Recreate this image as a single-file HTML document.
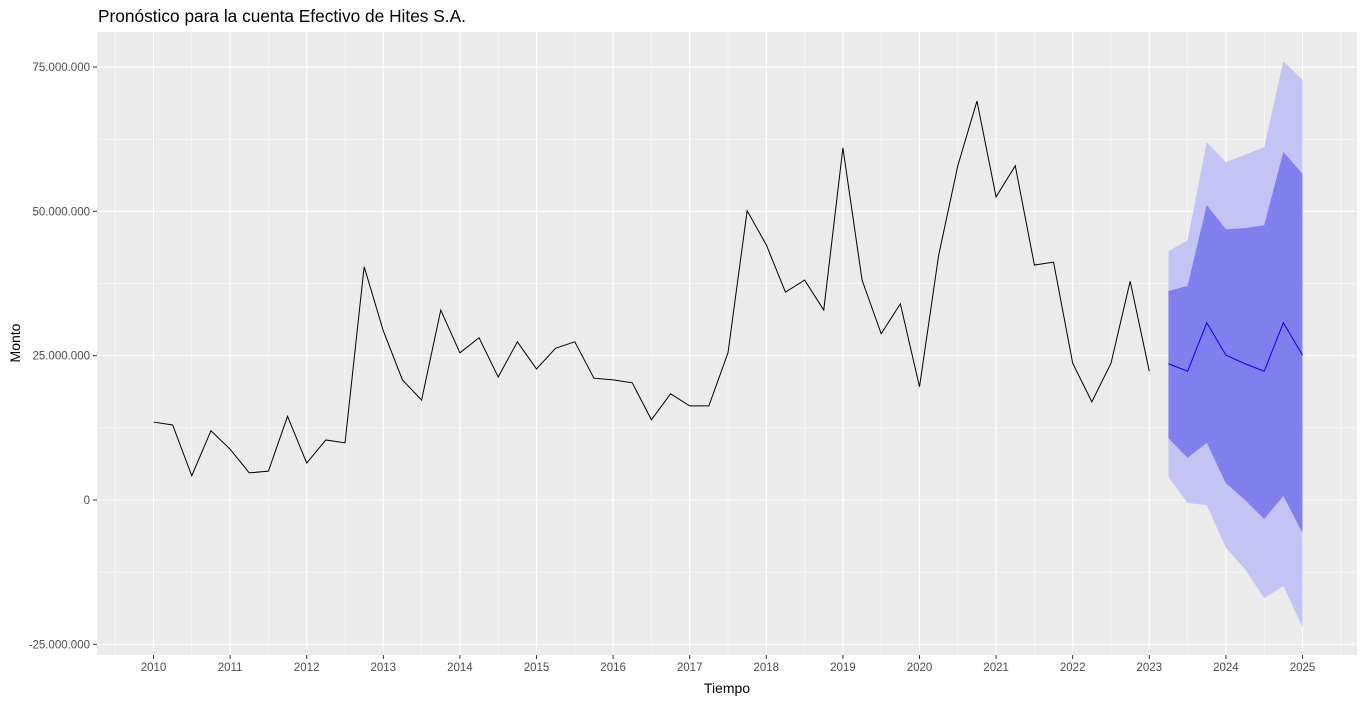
<!DOCTYPE html>
<html><head><meta charset="utf-8"><style>
body{margin:0;background:#fff;font-family:"Liberation Sans",Arial,sans-serif}
</style></head><body>
<svg id="chart" width="1366" height="703" xmlns="http://www.w3.org/2000/svg">
<text x="98" y="22" font-size="17.3" fill="#000">Pronóstico para la cuenta Efectivo de Hites S.A.</text>
<rect x="97" y="32" width="1260" height="623" fill="#ebebeb"/>
<g id="grid"></g><g id="bands"></g><g id="lines"></g><g id="axes"></g>
<text x="727" y="693" font-size="14" text-anchor="middle" fill="#000">Tiempo</text>
<text transform="translate(20,343) rotate(-90)" font-size="14" text-anchor="middle" fill="#000">Monto</text>
</svg>
<script>
const actual=[13.5,13.0,4.2,12.0,8.8,4.7,5.0,14.5,6.4,10.4,9.9,40.4,29.3,20.8,17.3,32.9,25.5,28.1,21.3,27.4,22.7,26.3,27.4,21.1,20.8,20.3,13.9,18.4,16.3,16.3,25.5,50.1,44.2,36.0,38.1,32.9,61.0,38.1,28.8,34.0,19.6,42.4,57.9,69.1,52.5,57.9,40.7,41.2,23.7,17.0,23.7,37.9,22.3];
const fcMean=[23.6,22.3,30.7,25.1,23.6,22.3,30.7,25.1];
const hi80=[36.2,37.1,51.1,46.9,47.1,47.6,60.3,56.5];
const lo80=[10.7,7.3,9.9,2.9,0,-3.3,0.7,-5.7];
const hi95=[43.1,45.0,62.0,58.5,59.8,61.1,76.0,72.8];
const lo95=[4.0,-0.5,-0.9,-8.3,-12.0,-17.0,-14.9,-22.0];
const xTicks=[2010,2011,2012,2013,2014,2015,2016,2017,2018,2019,2020,2021,2022,2023,2024,2025];
const yTicks=[-25,0,25,50,75];
const yLabels=["-25.000.000","0","25.000.000","50.000.000","75.000.000"];
const startYear=2010, fcStart=2023.25;
const X=t=>153.5+(t-2010)*76.6, Y=v=>500-v*5.773;
const NS="http://www.w3.org/2000/svg";
function mk(tag,attrs,parent){const e=document.createElementNS(NS,tag);for(const k in attrs)e.setAttribute(k,attrs[k]);document.getElementById(parent).appendChild(e);return e;}
for(let t=2009.5;t<=2025.5;t+=0.5){const major=Number.isInteger(t);
const l=mk('line',{x1:X(t),x2:X(t),y1:32,y2:655,stroke:'#fff','stroke-width':major?1.1:0.5},'grid');

}
for(let v=-25;v<=75;v+=12.5){const major=v%25===0;
const l=mk('line',{x1:97,x2:1357,y1:Y(v),y2:Y(v),stroke:'#fff','stroke-width':major?1.1:0.5},'grid');

}
function band(hi,lo,color,name){let pts=[];hi.forEach((v,i)=>pts.push(X(fcStart+i*0.25)+','+Y(v)));
for(let i=lo.length-1;i>=0;i--)pts.push(X(fcStart+i*0.25)+','+Y(lo[i]));
const p=mk('polygon',{points:pts.join(' '),fill:color},'bands');

}
band(hi95,lo95,'#c4c4f4','interval-95');
band(hi80,lo80,'#7f7fed','interval-80');
const a=mk('polyline',{points:actual.map((v,i)=>X(startYear+i*0.25)+','+Y(v)).join(' '),fill:'none',stroke:'#000','stroke-width':1},'lines');


const f=mk('polyline',{points:fcMean.map((v,i)=>X(fcStart+i*0.25)+','+Y(v)).join(' '),fill:'none',stroke:'#0000ff','stroke-width':1},'lines');


xTicks.forEach(t=>{mk('line',{x1:X(t),x2:X(t),y1:655,y2:659,stroke:'#333'},'axes');
const tx=mk('text',{x:X(t),y:671,'font-size':11.5,'text-anchor':'middle',fill:'#4d4d4d'},'axes');tx.textContent=t;

});
yTicks.forEach((v,i)=>{mk('line',{x1:93,x2:97,y1:Y(v),y2:Y(v),stroke:'#333'},'axes');
const tx=mk('text',{x:90,y:Y(v)+4,'font-size':11.5,'text-anchor':'end',fill:'#4d4d4d'},'axes');tx.textContent=yLabels[i];

});
</script>
</body></html>
